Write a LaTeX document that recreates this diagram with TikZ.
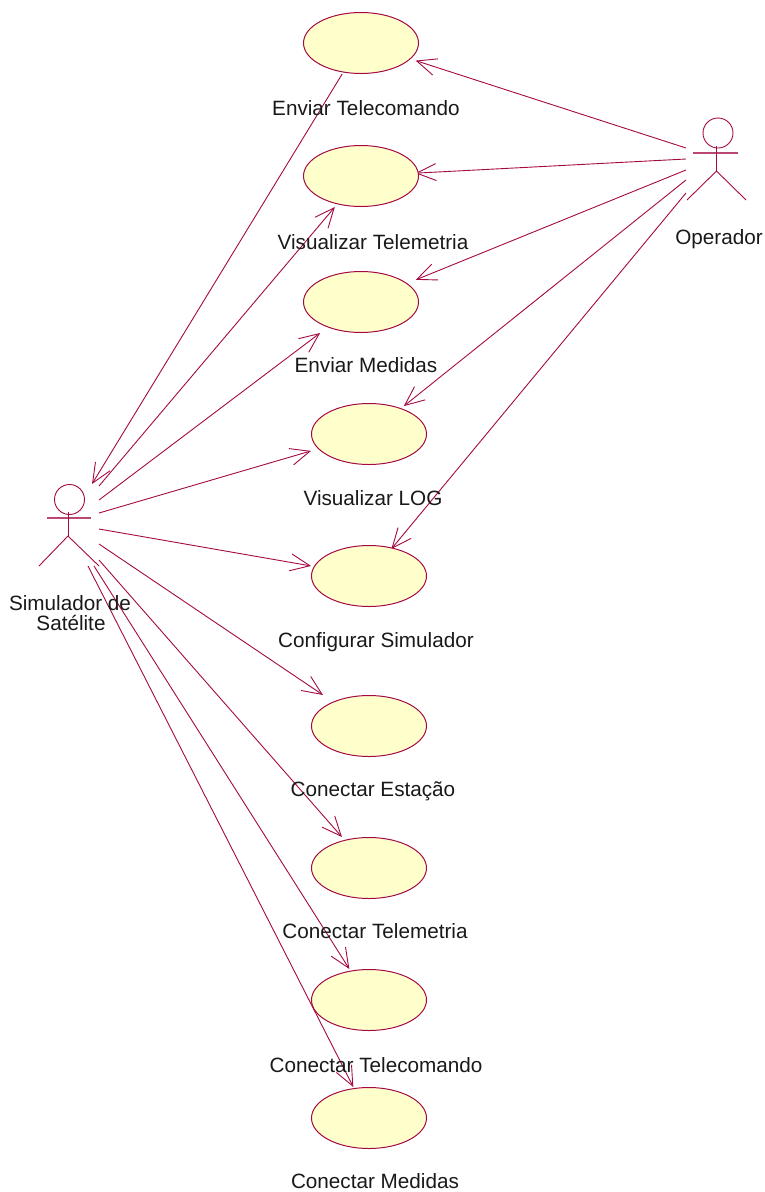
\documentclass[tikz,border=0pt]{standalone}
\usepackage{fontspec}
\setmainfont{Liberation Sans}
\usetikzlibrary{arrows.meta,backgrounds}
\definecolor{umlline}{RGB}{163,10,68}
\definecolor{umlfill}{RGB}{255,255,203}
\tikzset{
  usecase/.style={rectangle,minimum width=116pt,minimum height=62pt,inner sep=0pt,outer sep=0pt,
    path picture={\draw[draw=umlline,fill=umlfill,line width=1pt] (path picture bounding box.center) ellipse (57.5pt and 30.5pt);}},
  assoc/.style={draw=umlline,line width=0.9pt,-{Straight Barb[length=19.5pt,width=17pt,line width=0.9pt]}},
  pull/.style={shorten >=-3.5pt},
  reach/.style={shorten >=-5pt},
  limb/.style={draw=umlline,line width=0.9pt},
  armline/.style={draw=umlline!75,line width=1.2pt},
  lbl/.style={anchor=base,inner sep=0pt,font=\fontsize{20.7}{24}\selectfont,text=black!90}
}
\begin{document}
\begin{tikzpicture}[x=1pt,y=-1pt]
\useasboundingbox (0,0) rectangle (764,1192);
% use cases
\node[usecase] (e1) at (361,43) {};
\node[usecase] (e2) at (361,176) {};
\node[usecase] (e3) at (361,302) {};
\node[usecase] (e4) at (369,434) {};
\node[usecase] (e5) at (369,576) {};
\node[usecase] (e6) at (369,726) {};
\node[usecase] (e7) at (369,868) {};
\node[usecase] (e8) at (369,1000) {};
\node[usecase] (e9) at (369,1118) {};
% actor ports
\coordinate (sTip) at (92,484);
\coordinate (s2) at (99,486);
\coordinate (s3) at (99,500);
\coordinate (s4) at (99,513);
\coordinate (s5) at (99,529);
\coordinate (s6) at (99,544);
\coordinate (s7) at (99,560);
\coordinate (s8) at (94,566);
\coordinate (s9) at (88,566);
\coordinate (o1) at (686,148);
\coordinate (o2) at (686,159);
\coordinate (o3) at (686,170);
\coordinate (o4) at (686,180);
\coordinate (o5) at (686,193);
% connectors behind the use cases
\begin{scope}[on background layer]
\draw[assoc] (e1) -- (sTip);
\draw[assoc] (s2) -- (e2);
\draw[assoc] (s3) -- (e3);
\draw[assoc] (s4) -- (e4);
\draw[assoc] (s5) -- (e5);
\draw[assoc] (s6) -- (e6);
\draw[assoc] (s7) -- (e7);
\draw[assoc] (s8) -- (e8);
\draw[assoc] (s9) -- (e9);
\draw[assoc,pull] (o1) -- (e1);
\draw[assoc,pull] (o2) -- (e2);
\draw[assoc,pull] (o3) -- (e3);
\draw[assoc,reach] (o4) -- (e4);
\draw[assoc,reach] (o5) -- (e5);
\end{scope}
% actor Simulador
\node[circle,draw=umlline,line width=0.9pt,minimum size=30pt,inner sep=0pt] (sHead) at (69.5,499.5) {};
\draw[armline] (47,518) -- (91,518);
\draw[limb] (68,512) -- (68,536) coordinate (sHip);
\draw[limb] (39,566) -- (sHip) -- (99,566);
% actor Operador
\node[circle,draw=umlline,line width=0.9pt,minimum size=30pt,inner sep=0pt] (oHead) at (718,133) {};
\draw[armline] (693,153) -- (738,153);
\draw[limb] (716.5,146) -- (716.5,171) coordinate (oHip);
\draw[limb] (687,200) -- (oHip) -- (746,200);
% labels
\node[lbl] (t1) at (366,115) {Enviar Telecomando};
\node[lbl] (t2) at (373,249) {Visualizar Telemetria};
\node[lbl] (t3) at (366,372) {Enviar Medidas};
\node[lbl] (t4) at (373,505) {Visualizar LOG};
\node[lbl] (t5) at (376,647) {Configurar Simulador};
\node[lbl] (t6) at (373,796) {Conectar Estação};
\node[lbl] (t7) at (375,938) {Conectar Telemetria};
\node[lbl] (t8) at (376,1072) {Conectar Telecomando};
\node[lbl] (t9) at (375,1188) {Conectar Medidas};
\node[lbl] (t10) at (70,610) {Simulador de};
\node[lbl] (t11) at (71,630) {Satélite};
\node[lbl] (t12) at (719,244) {Operador};
\end{tikzpicture}
\end{document}
